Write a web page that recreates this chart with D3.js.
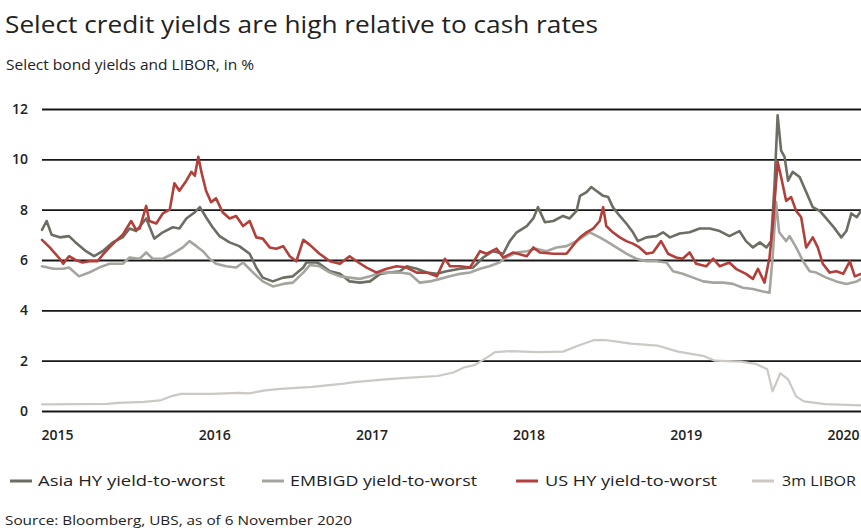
<!DOCTYPE html>
<html>
<head>
<meta charset="utf-8">
<script src="https://cdn.jsdelivr.net/npm/d3@7"></script>
<style>
  html, body { margin: 0; padding: 0; background: #fff; }
  svg { display: block; }
  text { font-family: "Open Sans", "DejaVu Sans", sans-serif; fill: #222; }
</style>
</head>
<body>
<svg id="chart" width="861" height="530"></svg>
<script>
// ---- data (yields and rates in %) ----
const seriesNames = ["Asia HY yield-to-worst", "EMBIGD yield-to-worst", "US HY yield-to-worst", "3m LIBOR"];
const yTicks = [0, 2, 4, 6, 8, 10, 12];
const yearLabels = ["2015", "2016", "2017", "2018", "2019", "2020"];

const asiaHY = [
  ["2015-01-01",7.2],["2015-01-13",7.55],["2015-01-26",7.0],["2015-02-16",6.9],["2015-03-12",6.95],
  ["2015-03-29",6.7],["2015-04-25",6.35],["2015-05-16",6.15],["2015-06-07",6.35],["2015-07-03",6.7],
  ["2015-07-29",6.9],["2015-08-16",7.25],["2015-09-02",7.15],["2015-09-28",7.65],["2015-10-19",6.85],
  ["2015-11-10",7.1],["2015-12-06",7.3],["2015-12-23",7.25],["2016-01-10",7.65],["2016-02-01",7.9],
  ["2016-02-14",8.1],["2016-03-01",7.7],["2016-03-18",7.3],["2016-04-05",6.95],["2016-05-01",6.7],
  ["2016-05-26",6.55],["2016-06-22",6.25],["2016-07-09",5.7],["2016-07-26",5.3],["2016-08-21",5.15],
  ["2016-09-17",5.3],["2016-10-12",5.35],["2016-11-08",5.7],["2016-11-16",5.9],["2016-12-12",5.9],
  ["2016-12-20",5.85],["2017-01-16",5.55],["2017-02-11",5.45],["2017-03-08",5.15],["2017-04-04",5.1],
  ["2017-04-30",5.15],["2017-05-26",5.45],["2017-06-20",5.5],["2017-07-16",5.55],["2017-08-03",5.75],
  ["2017-08-29",5.65],["2017-09-24",5.5],["2017-10-20",5.45],["2017-11-14",5.55],["2017-12-19",5.65],
  ["2018-01-22",5.7],["2018-02-17",6.1],["2018-03-14",6.35],["2018-04-10",6.25],["2018-04-27",6.75],
  ["2018-05-15",7.1],["2018-06-10",7.35],["2018-06-27",7.65],["2018-07-09",8.1],["2018-07-27",7.5],
  ["2018-08-18",7.55],["2018-09-12",7.75],["2018-09-29",7.65],["2018-10-17",7.95],["2018-10-26",8.55],
  ["2018-11-12",8.7],["2018-11-24",8.9],["2018-12-07",8.75],["2018-12-25",8.55],["2019-01-07",8.5],
  ["2019-01-19",8.1],["2019-02-06",7.75],["2019-02-23",7.45],["2019-03-12",7.1],["2019-03-25",6.75],
  ["2019-04-16",6.9],["2019-05-12",6.95],["2019-05-29",7.1],["2019-06-16",6.9],["2019-07-11",7.05],
  ["2019-08-06",7.1],["2019-09-01",7.25],["2019-09-27",7.25],["2019-10-23",7.15],["2019-11-17",6.95],
  ["2019-12-13",7.15],["2019-12-30",6.75],["2020-01-17",6.5],["2020-02-04",6.7],["2020-02-21",6.5],
  ["2020-03-04",6.75],["2020-03-13",9.0],["2020-03-21",11.75],["2020-03-30",10.35],["2020-04-08",10.1],
  ["2020-04-17",9.15],["2020-04-29",9.5],["2020-05-17",9.3],["2020-06-03",8.7],["2020-06-20",8.1],
  ["2020-07-08",7.95],["2020-07-25",7.65],["2020-08-11",7.35],["2020-09-02",6.9],["2020-09-15",7.15],
  ["2020-09-28",7.85],["2020-10-12",7.7],["2020-10-23",7.95]
];

const embigd = [
  ["2015-01-01",5.75],["2015-01-30",5.65],["2015-02-25",5.65],["2015-03-12",5.7],["2015-04-07",5.35],
  ["2015-05-03",5.5],["2015-05-29",5.7],["2015-06-25",5.85],["2015-07-29",5.85],["2015-08-16",6.1],
  ["2015-09-11",6.05],["2015-09-28",6.3],["2015-10-15",6.05],["2015-11-10",6.05],["2015-12-06",6.25],
  ["2016-01-01",6.5],["2016-01-18",6.75],["2016-02-05",6.55],["2016-02-22",6.35],["2016-03-10",6.05],
  ["2016-03-27",5.85],["2016-04-22",5.75],["2016-05-18",5.7],["2016-06-05",5.9],["2016-07-01",5.5],
  ["2016-07-26",5.15],["2016-08-21",4.95],["2016-09-17",5.05],["2016-10-12",5.1],["2016-11-08",5.5],
  ["2016-11-25",5.8],["2016-12-20",5.75],["2017-01-16",5.5],["2017-02-11",5.35],["2017-03-08",5.3],
  ["2017-04-04",5.25],["2017-04-30",5.35],["2017-05-26",5.5],["2017-06-20",5.5],["2017-07-16",5.5],
  ["2017-08-11",5.45],["2017-09-06",5.1],["2017-10-02",5.15],["2017-10-28",5.25],["2017-11-23",5.35],
  ["2017-12-19",5.45],["2018-01-14",5.5],["2018-02-09",5.65],["2018-03-05",5.75],["2018-03-31",5.9],
  ["2018-04-17",6.1],["2018-05-15",6.3],["2018-06-10",6.35],["2018-07-04",6.45],["2018-07-31",6.35],
  ["2018-08-26",6.5],["2018-09-21",6.55],["2018-10-17",6.75],["2018-11-20",7.1],["2018-12-16",6.9],
  ["2019-01-02",6.75],["2019-01-28",6.5],["2019-02-23",6.25],["2019-03-21",6.05],["2019-04-16",5.95],
  ["2019-05-12",5.95],["2019-06-07",5.9],["2019-06-24",5.55],["2019-07-19",5.45],["2019-08-15",5.3],
  ["2019-09-10",5.15],["2019-10-06",5.1],["2019-11-01",5.1],["2019-11-26",5.05],["2019-12-22",4.9],
  ["2020-01-17",4.85],["2020-02-12",4.75],["2020-02-29",4.7],["2020-03-08",6.1],["2020-03-17",8.3],
  ["2020-03-25",7.1],["2020-04-12",6.75],["2020-04-21",6.95],["2020-05-08",6.5],["2020-05-26",5.95],
  ["2020-06-12",5.55],["2020-06-29",5.5],["2020-07-25",5.3],["2020-08-20",5.15],["2020-09-15",5.05],
  ["2020-10-12",5.15],["2020-10-23",5.25]
];

const usHY = [
  ["2015-01-01",6.8],["2015-01-21",6.5],["2015-02-16",6.05],["2015-02-25",5.85],["2015-03-12",6.15],
  ["2015-03-29",6.0],["2015-04-16",5.9],["2015-05-03",5.95],["2015-05-25",5.95],["2015-06-07",6.2],
  ["2015-06-25",6.5],["2015-07-11",6.75],["2015-07-29",7.0],["2015-08-20",7.55],["2015-09-02",7.2],
  ["2015-09-11",7.25],["2015-09-28",8.15],["2015-10-06",7.55],["2015-10-24",7.45],["2015-11-10",7.85],
  ["2015-11-28",8.0],["2015-12-10",9.05],["2015-12-23",8.75],["2016-01-10",9.15],["2016-01-23",9.5],
  ["2016-02-01",9.35],["2016-02-10",10.1],["2016-02-18",9.5],["2016-03-01",8.75],["2016-03-14",8.3],
  ["2016-03-27",8.45],["2016-04-13",7.9],["2016-05-01",7.65],["2016-05-18",7.75],["2016-06-05",7.35],
  ["2016-06-22",7.55],["2016-07-09",6.9],["2016-07-26",6.85],["2016-08-13",6.5],["2016-08-30",6.45],
  ["2016-09-17",6.55],["2016-10-04",6.15],["2016-10-21",5.95],["2016-11-08",6.8],["2016-11-25",6.6],
  ["2016-12-20",6.25],["2017-01-16",5.95],["2017-02-11",5.85],["2017-03-08",6.15],["2017-03-26",5.95],
  ["2017-04-21",5.7],["2017-05-17",5.5],["2017-06-12",5.65],["2017-07-08",5.75],["2017-08-03",5.7],
  ["2017-08-29",5.5],["2017-09-24",5.5],["2017-10-20",5.35],["2017-11-10",6.05],["2017-11-23",5.75],
  ["2017-12-19",5.75],["2018-01-14",5.7],["2018-02-09",6.35],["2018-02-26",6.25],["2018-03-24",6.45],
  ["2018-04-10",6.1],["2018-05-06",6.3],["2018-06-10",6.15],["2018-06-27",6.5],["2018-07-14",6.3],
  ["2018-08-18",6.25],["2018-09-21",6.25],["2018-10-17",6.75],["2018-10-26",6.9],["2018-11-12",7.1],
  ["2018-11-29",7.25],["2018-12-16",7.55],["2018-12-25",8.1],["2019-01-02",7.35],["2019-01-19",7.1],
  ["2019-02-06",6.9],["2019-02-23",6.75],["2019-03-12",6.65],["2019-03-29",6.5],["2019-04-16",6.25],
  ["2019-05-03",6.3],["2019-05-24",6.75],["2019-06-11",6.25],["2019-07-02",6.1],["2019-07-19",6.05],
  ["2019-08-06",6.3],["2019-08-23",5.85],["2019-09-18",5.75],["2019-10-06",6.05],["2019-10-23",5.75],
  ["2019-11-17",5.9],["2019-12-04",5.65],["2019-12-30",5.45],["2020-01-17",5.25],["2020-01-30",5.65],
  ["2020-02-16",5.1],["2020-02-29",6.1],["2020-03-08",7.3],["2020-03-21",9.9],["2020-03-30",9.3],
  ["2020-04-12",8.35],["2020-04-25",8.5],["2020-05-08",7.95],["2020-05-21",7.7],["2020-06-03",6.5],
  ["2020-06-20",6.9],["2020-07-03",6.5],["2020-07-16",5.85],["2020-08-03",5.5],["2020-08-20",5.55],
  ["2020-09-07",5.45],["2020-09-24",5.95],["2020-10-07",5.35],["2020-10-23",5.45]
];

const libor3m = [
  ["2015-01-01",0.26],["2015-06-20",0.28],["2015-07-17",0.32],["2015-09-23",0.36],["2015-11-03",0.42],
  ["2015-11-30",0.58],["2015-12-27",0.68],["2016-03-17",0.68],["2016-05-25",0.72],["2016-06-21",0.7],
  ["2016-08-01",0.82],["2016-09-10",0.88],["2016-12-01",0.96],["2017-02-21",1.09],["2017-03-20",1.15],
  ["2017-06-09",1.26],["2017-08-02",1.32],["2017-10-22",1.39],["2017-12-02",1.53],["2017-12-29",1.73],
  ["2018-01-25",1.82],["2018-02-21",2.07],["2018-03-20",2.34],["2018-04-30",2.38],["2018-07-06",2.34],
  ["2018-09-12",2.36],["2018-10-22",2.6],["2018-12-02",2.82],["2018-12-29",2.82],["2019-01-25",2.77],
  ["2019-03-07",2.68],["2019-05-14",2.6],["2019-07-07",2.36],["2019-09-13",2.18],["2019-10-10",2.0],
  ["2019-12-17",1.96],["2020-01-27",1.86],["2020-02-23",1.66],["2020-03-08",0.78],["2020-03-28",1.5],
  ["2020-04-17",1.26],["2020-05-08",0.58],["2020-05-28",0.38],["2020-07-22",0.27],["2020-10-23",0.22]
];

const seriesColors = ["#6d6d63", "#a5a59f", "#b23f39", "#ccc8c4"];

// ---- layout ----
const W = 861, H = 530;
const plot = { left: 42, right: 861, top: 109, bottom: 411 };

const parseDate = d3.timeParse("%Y-%m-%d");
const toPoints = arr => arr.map(([d, v]) => ({ date: parseDate(d), v }));
const allSeries = [asiaHY, embigd, usHY, libor3m].map(toPoints);

const svg = d3.select("#chart");
svg.append("rect").attr("width", W).attr("height", H).attr("fill", "#fff");

const x = d3.scaleTime()
  .domain([parseDate("2015-01-01"), parseDate("2020-10-23")])
  .range([plot.left, plot.right]);
const y = d3.scaleLinear().domain([0, 12]).range([plot.bottom, plot.top]);

// horizontal gridlines with value labels
const yAxis = svg.append("g")
  .attr("transform", `translate(${plot.left},0)`)
  .call(d3.axisLeft(y).tickValues(yTicks).tickFormat(d3.format("d"))
    .tickSize(-(plot.right - plot.left)).tickPadding(14));
yAxis.select(".domain").remove();
yAxis.selectAll(".tick line").attr("stroke", "#161616").attr("stroke-width", 1.9);
yAxis.selectAll(".tick text")
  .attr("font-size", 14).attr("font-weight", 600).attr("fill", "#222")
  .style("font-family", "'Open Sans', sans-serif");

// year labels along the bottom
const yearScale = d3.scalePoint().domain(yearLabels).range([57, 843]);
const xAxis = svg.append("g")
  .attr("transform", `translate(0,${plot.bottom})`)
  .call(d3.axisBottom(yearScale).tickSize(0).tickPadding(19));
xAxis.select(".domain").remove();
xAxis.selectAll(".tick text")
  .attr("font-size", 14).attr("font-weight", 600).attr("fill", "#222")
  .style("font-family", "'Open Sans', sans-serif");

// series lines
const line = d3.line().x(d => x(d.date)).y(d => y(d.v)).curve(d3.curveLinear);
const lineWidths = [2.6, 2.6, 2.6, 2.2];
svg.append("g").selectAll("path")
  .data(allSeries)
  .join("path")
  .attr("d", line)
  .attr("fill", "none")
  .attr("stroke", (d, i) => seriesColors[i])
  .attr("stroke-width", (d, i) => lineWidths[i])
  .attr("stroke-linejoin", "round")
  .attr("stroke-linecap", "round");

// titles
svg.append("text").attr("x", 5).attr("y", 33)
  .attr("font-size", 23).attr("fill", "#2a2a2a")
  .attr("textLength", 593).attr("lengthAdjust", "spacingAndGlyphs")
  .text("Select credit yields are high relative to cash rates");
svg.append("text").attr("x", 6).attr("y", 70)
  .attr("font-size", 15).attr("fill", "#222")
  .attr("textLength", 248).attr("lengthAdjust", "spacingAndGlyphs")
  .text("Select bond yields and LIBOR, in %");

// legend
const legendItems = [
  { sx: 10, tx: 38, tw: 187 },
  { sx: 262, tx: 290, tw: 187 },
  { sx: 516, tx: 545, tw: 172 },
  { sx: 752, tx: 782, tw: 74 }
];
const legend = svg.append("g");
legendItems.forEach((it, i) => {
  legend.append("line")
    .attr("x1", it.sx).attr("x2", it.sx + 22).attr("y1", 481).attr("y2", 481)
    .attr("stroke", seriesColors[i]).attr("stroke-width", 3);
  legend.append("text")
    .attr("x", it.tx).attr("y", 486)
    .attr("font-size", 15).attr("fill", "#222")
    .attr("textLength", it.tw).attr("lengthAdjust", "spacingAndGlyphs")
    .text(seriesNames[i]);
});

// source note
svg.append("text").attr("x", 5).attr("y", 525)
  .attr("font-size", 13.5).attr("fill", "#222")
  .attr("textLength", 347).attr("lengthAdjust", "spacingAndGlyphs")
  .text("Source: Bloomberg, UBS, as of 6 November 2020");
</script>
</body>
</html>
